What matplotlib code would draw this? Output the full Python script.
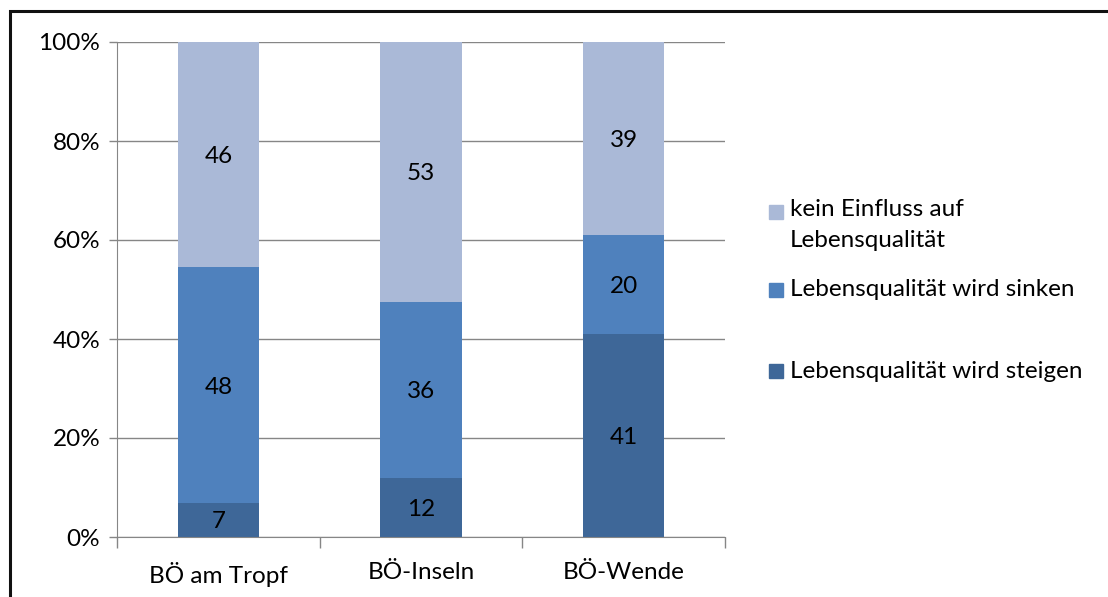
import numpy as np
import matplotlib.pyplot as plt
from matplotlib.patches import Rectangle

plt.rcParams['font.family'] = ['Lato', 'DejaVu Sans']

categories = ["BÖ am Tropf", "BÖ-Inseln", "BÖ-Wende"]
steigen = [7, 12, 41]
sinken = [48, 36, 20]
kein = [46, 53, 39]
series_names = ["Lebensqualität wird steigen", "Lebensqualität wird sinken",
                "kein Einfluss auf\nLebensqualität"]
colors = ["#3E6798", "#4F81BD", "#AAB9D7"]

data = np.array([steigen, sinken, kein], dtype=float)
totals = data.sum(axis=0)
shares = data / totals * 100

fig = plt.figure(figsize=(11.08, 5.97), dpi=100)
ax = fig.add_axes([117 / 1108, 1 - 537 / 597, 608 / 1108, 495 / 597])

fs = 17.5
x = np.arange(len(categories))
bottom = np.zeros(len(categories))
for i in range(3):
    ax.bar(x, shares[i], 0.4, bottom=bottom, color=colors[i], zorder=2)
    for j in range(len(categories)):
        ax.text(x[j], bottom[j] + shares[i][j] / 2 - 0.4, str(int(data[i][j])),
                ha='center', va='center', fontsize=fs, color='black', zorder=3)
    bottom += shares[i]

ax.set_xlim(-0.5, 2.5)
ax.set_ylim(0, 100)
ax.set_yticks(np.arange(0, 101, 20))
ax.set_yticklabels([f"{v}%" for v in range(0, 101, 20)])
ax.yaxis.grid(True, color='#868686', linewidth=1)
ax.set_axisbelow(True)
ax.set_xticks(x)
ax.set_xticklabels(categories)
ax.set_xticks(np.arange(-0.5, 3, 1), minor=True)
ax.tick_params(axis='x', which='major', length=0, pad=18, labelsize=fs)
ax.tick_params(axis='x', which='minor', length=8, color='#868686', width=1)
ax.tick_params(axis='y', length=6, color='#868686', width=1, labelsize=fs, pad=6)
for s in ['top', 'right']:
    ax.spines[s].set_visible(False)
for s in ['left', 'bottom']:
    ax.spines[s].set_color('#868686')

# legend drawn by hand to keep the Excel spacing
leg_y = [212, 290, 371]
order = [2, 1, 0]
for k, i in enumerate(order):
    y = 1 - leg_y[k] / 597
    fig.patches.append(Rectangle((769 / 1108, y - 7 / 597), 14 / 1108, 14 / 597,
                                 transform=fig.transFigure, color=colors[i]))
    lbl = series_names[i]
    if '\n' in lbl:
        fig.text(790 / 1108, y + 13 / 597, lbl, ha='left', va='top',
                 fontsize=fs, linespacing=1.6)
    else:
        fig.text(790 / 1108, y, lbl, ha='left', va='center', fontsize=fs)

# outer frame
fig.patches.append(Rectangle((10 / 1108, -0.01), 1.1, 1 - 11 / 597 + 0.01,
                             transform=fig.transFigure, fill=False,
                             edgecolor='#111111', linewidth=2.2))

fig.savefig("out.png", dpi=100)
